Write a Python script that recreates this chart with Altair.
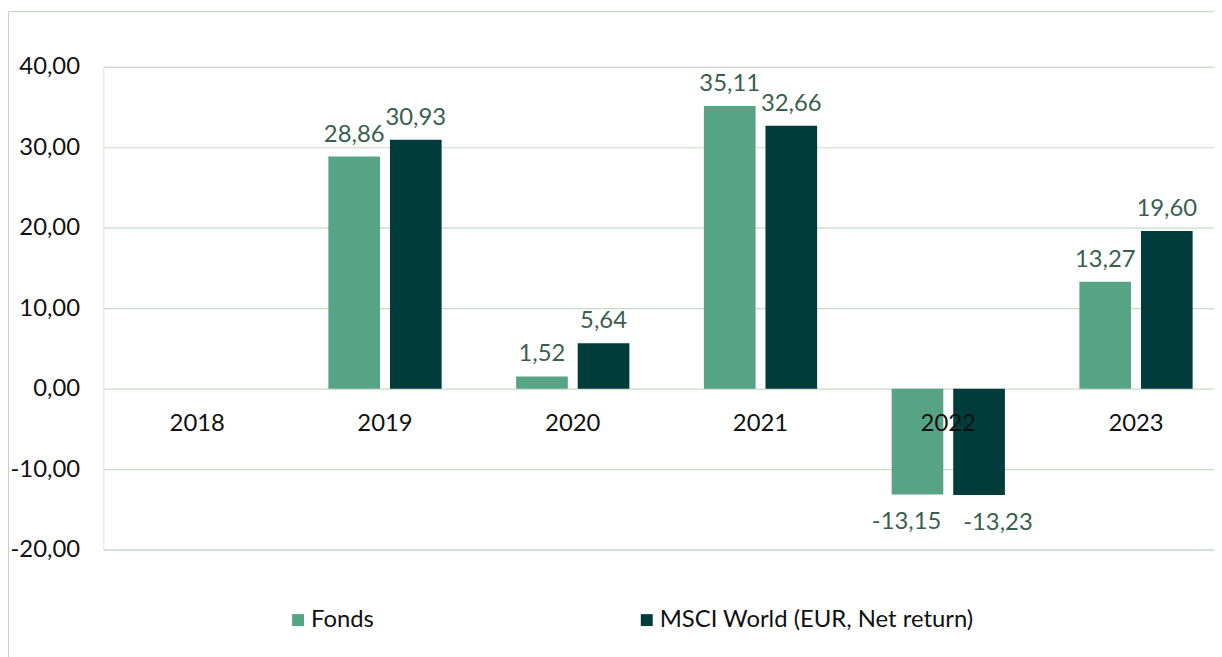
import altair as alt
import pandas as pd

years = ["2018", "2019", "2020", "2021", "2022", "2023"]
fonds = [None, 28.86, 1.52, 35.11, -13.15, 13.27]
msci = [None, 30.93, 5.64, 32.66, -13.23, 19.60]
series = ["Fonds", "MSCI World (EUR, Net return)"]
colors = ["#56a386", "#013c3c"]
title_text = "Performance annuelle* de 2019 à 2023"

rows = []
for i, y in enumerate(years):
    for s, vals in zip(series, [fonds, msci]):
        v = vals[i]
        rows.append({
            "year": y,
            "series": s,
            "value": v,
            "label": None if v is None else f"{v:.2f}".replace(".", ","),
        })
df = pd.DataFrame(rows)

FONT = "Lato"
FS = 24

x_enc = alt.X("year:N", sort=years,
              scale=alt.Scale(domain=years, paddingInner=0, paddingOuter=0),
              axis=alt.Axis(title=None, orient="bottom", offset=-162, domain=False, ticks=False,
                            labelAngle=0, labelPadding=23, labelFontSize=FS, labelFont=FONT,
                            labelColor="#111111", grid=False, zindex=2))
xoff = alt.XOffset("series:N", sort=series,
                   scale=alt.Scale(paddingInner=0.161, paddingOuter=0.605))
y_scale = alt.Scale(domain=[-20, 40], nice=False, zero=True)

bars = alt.Chart(df).mark_bar().encode(
    x=x_enc,
    xOffset=xoff,
    y=alt.Y("value:Q", scale=y_scale,
            axis=alt.Axis(title=None, values=[-20, -10, 0, 10, 20, 30, 40],
                          labelExpr="(datum.value < 0 ? '-' : '') + replace(format(abs(datum.value), '.2f'), '.', ',')",
                          domain=False, ticks=False, labelPadding=24, labelFontSize=FS,
                          labelFont=FONT, labelColor="#111111", grid=True,
                          gridColor="#c5dcc5", gridWidth=1.2)),
    color=alt.Color("series:N", sort=series,
                    scale=alt.Scale(domain=series, range=colors),
                    legend=alt.Legend(title=None, orient="none", legendX=184, legendY=545,
                                      direction="horizontal", symbolType="square",
                                      symbolSize=144, symbolStrokeWidth=0,
                                      labelFontSize=FS, labelFont=FONT, labelColor="#111111",
                                      labelOffset=1, columnPadding=262, labelLimit=600)),
)

pos_labels = alt.Chart(df).transform_filter("datum.value >= 0").mark_text(
    baseline="bottom", dy=-10, fontSize=FS, font=FONT, color="#3a5f4f"
).encode(x=alt.X("year:N", sort=years), xOffset=alt.XOffset("series:N", sort=series),
         y="value:Q", text="label:N")

neg_fonds = alt.Chart(df).transform_filter(
    f"datum.value < 0 && datum.series == '{series[0]}'").mark_text(
    baseline="top", dy=16, dx=-11, fontSize=FS, font=FONT, color="#3a5f4f"
).encode(x=alt.X("year:N", sort=years), xOffset=alt.XOffset("series:N", sort=series),
         y="value:Q", text="label:N")

neg_msci = alt.Chart(df).transform_filter(
    f"datum.value < 0 && datum.series == '{series[1]}'").mark_text(
    baseline="top", dy=16, dx=19, fontSize=FS, font=FONT, color="#3a5f4f"
).encode(x=alt.X("year:N", sort=years), xOffset=alt.XOffset("series:N", sort=series),
         y="value:Q", text="label:N")

frame = alt.Chart(pd.DataFrame({"t": [title_text]})).mark_rect(
    fill=None, stroke="#b7d5b7", strokeWidth=1
).encode(x=alt.value(-95.5), x2=alt.value(3000), y=alt.value(-55.5), y2=alt.value(3000))

title = alt.Chart(pd.DataFrame({"t": [title_text]})).mark_text(
    align="left", baseline="alphabetic", fontSize=20, fontWeight="bold", font=FONT, color="#111111"
).encode(x=alt.value(-96), y=alt.value(-60), text="t:N")

chart = alt.layer(frame, bars, pos_labels, neg_fonds, neg_msci, title).properties(
    width=1134, height=486,
    padding={"left": 96, "top": 57, "right": -16, "bottom": 106},
    autosize=alt.AutoSizeParams(type="none"),
).configure_view(stroke=None).configure(background="white")

chart.save("out.html", embed_options={"renderer": "svg", "actions": False})
